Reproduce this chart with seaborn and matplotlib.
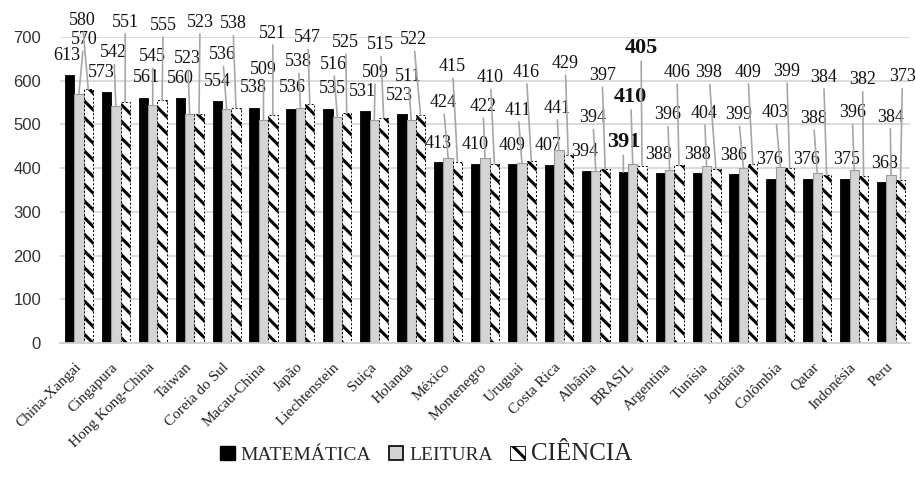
import matplotlib
matplotlib.use("Agg")
import matplotlib.pyplot as plt
import matplotlib.patches as mpatches
import numpy as np
import pandas as pd
import seaborn as sns

# PISA 2012 - médias por país
paises = ["China-Xangai", "Cingapura", "Hong Kong-China", "Taiwan", "Coreia do Sul",
          "Macau-China", "Japão", "Liechtenstein", "Suiça", "Holanda", "México",
          "Montenegro", "Uruguai", "Costa Rica", "Albânia", "BRASIL", "Argentina",
          "Tunísia", "Jordânia", "Colômbia", "Qatar", "Indonésia", "Peru"]
matematica = [613, 573, 561, 560, 554, 538, 536, 535, 531, 523, 413, 410, 409,
              407, 394, 391, 388, 388, 386, 376, 376, 375, 368]
leitura = [570, 542, 545, 523, 536, 509, 538, 516, 509, 511, 424, 422, 411,
           441, 394, 410, 396, 404, 399, 403, 388, 396, 384]
ciencia = [580, 551, 555, 523, 538, 521, 547, 525, 515, 522, 415, 410, 416,
           429, 397, 405, 406, 398, 409, 399, 384, 382, 373]
areas = ["MATEMÁTICA", "LEITURA", "CIÊNCIA"]
destaque = "BRASIL"

# placement of each value label relative to the top of its bar, in pixels
lift_mat = [19, 20, 20, 20, 19, 20, 21, 21, 19, 19, 19, 19, 19,
            19, 19, 30, 19, 19, 19, 19, 19, 19, 19]
lift_lei = [54, 53, 48, 56, 54, 51, 46, 53, 48, 43, 55, 52, 53,
            42, 53, 67, 55, 53, 54, 54, 55, 57, 58]
lift_cie = [69, 80, 75, 92, 84, 82, 66, 71, 73, 75, 95, 86, 89,
            92, 94, 118, 93, 96, 92, 97, 98, 96, 103]
shift_mat = [-3, -5, 3, 0, 0, -1, 1, 4, -2, -2, -1, -1, -1,
             -2, -2, 0, -2, 0, -1, -1, -1, 2, 3]
shift_lei = [5, -2, 0, -2, -4, 0, -2, -4, 1, -3, -5, -2, -4,
             -2, -3, -2, -2, -2, -5, -5, -4, -2, -1]
shift_cie = [-6, 0, 1, 1, -3, 0, -2, -1, -3, -7, -5, -4, -5,
             -3, -3, -1, -2, -7, -5, -3, -3, -1, 2]

sns.set_style("white")
plt.rcParams["font.family"] = ["Liberation Serif", "DejaVu Serif"]
plt.rcParams["hatch.linewidth"] = 2.2

df = pd.DataFrame({
    "País": paises * 3,
    "Área": np.repeat(areas, len(paises)),
    "Pontuação": matematica + leitura + ciencia,
})

fig = plt.figure(figsize=(9.16, 4.79), dpi=100)
ax = fig.add_axes([0.066, 0.284, 0.927, 0.639])

sns.barplot(data=df, x="País", y="Pontuação", hue="Área", order=paises,
            hue_order=areas, palette=["#000000", "#d4d4d4", "#ffffff"],
            saturation=1, width=0.76, gap=0, legend=False, ax=ax,
            errorbar=None)

cont_m, cont_l, cont_c = ax.containers
for b in cont_m:
    b.set_edgecolor("black")
    b.set_linewidth(0.6)
for b in cont_l:
    b.set_edgecolor("#9a9a9a")
    b.set_linewidth(0.8)
for b in cont_c:
    b.set_edgecolor("black")
    b.set_hatch("\\\\")
    b.set_linewidth(0.7)
    b.set_linestyle((0, (2, 2)))

ax.set_ylim(0, 700)
ax.set_xlim(-0.5, len(paises) - 0.5)
ax.set_yticks(range(0, 701, 100))
ax.yaxis.grid(True, color="#d9d9d9", lw=1.3)
ax.set_axisbelow(True)
for s in ["left", "right", "top"]:
    ax.spines[s].set_visible(False)
ax.spines["bottom"].set_color("#d0d0d0")
ax.spines["bottom"].set_linewidth(1.3)
ax.set_xlabel("")
ax.set_ylabel("")
ax.tick_params(axis="y", length=0, pad=14, labelsize=12, labelcolor="#333333")
ax.tick_params(axis="x", length=0, pad=16, labelsize=11)
for t in ax.get_yticklabels():
    t.set_fontfamily("Liberation Sans")
for t in ax.get_xticklabels():
    t.set_rotation(45)
    t.set_ha("right")
    t.set_va("center")
    t.set_rotation_mode("anchor")
    t.set_color("#222222")

# value labels with leader lines
for cont, vals, lifts, shifts in [(cont_m, matematica, lift_mat, shift_mat),
                                  (cont_l, leitura, lift_lei, shift_lei),
                                  (cont_c, ciencia, lift_cie, shift_cie)]:
    for bar, v, lift, dx, pais in zip(cont, vals, lifts, shifts, paises):
        xc = bar.get_x() + bar.get_width() / 2
        top = bar.get_height()
        bold = pais == destaque
        arrow = (dict(arrowstyle="-", color="#a6a6a6", lw=1.2, shrinkA=0, shrinkB=0)
                 if lift > 26 else None)
        ax.annotate(f"{v}", xy=(xc, top), xytext=(dx, lift),
                    textcoords="offset pixels", ha="center", va="center",
                    fontsize=16 if bold else 13,
                    fontweight="bold" if bold else "normal",
                    color="#111111", arrowprops=arrow, annotation_clip=False)

handles = [
    mpatches.Patch(facecolor="black", edgecolor="black"),
    mpatches.Patch(facecolor="#d4d4d4", edgecolor="black", linewidth=1.2),
    mpatches.Patch(facecolor="white", edgecolor="black", hatch="\\\\", linewidth=0.6),
]
leg = fig.legend(handles, areas, loc="center", bbox_to_anchor=(0.465, 0.052),
                 ncol=3, frameon=False, fontsize=14, handlelength=0.75,
                 handleheight=0.75, handletextpad=0.3, columnspacing=0.9)
leg.get_texts()[2].set_fontsize(18)

fig.savefig("out.png", dpi=100)
